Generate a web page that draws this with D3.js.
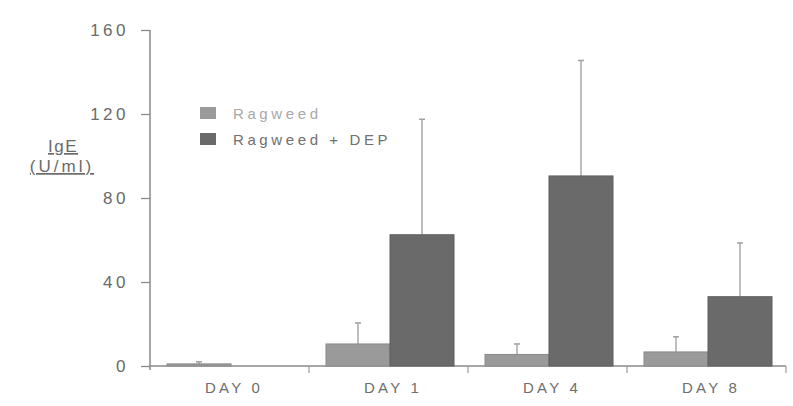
<!DOCTYPE html>
<html>
<head>
<meta charset="utf-8">
<script src="https://cdn.jsdelivr.net/npm/d3@7"></script>
<style>
  body { margin: 0; background: #fff; }
  text { font-family: "Liberation Sans", Arial, sans-serif; }
</style>
</head>
<body>
<div id="chart"></div>
<script>
// values
const days = ["DAY 0", "DAY 1", "DAY 4", "DAY 8"];
const seriesNames = ["Ragweed", "Ragweed + DEP"];
const ragweed = [1, 10.5, 5.5, 6.7];
const ragweedErr = [1, 10, 5, 7.2];
const ragweedDep = [null, 62.5, 90.5, 33];
const ragweedDepErr = [null, 55, 55, 25.6];
const yTicks = [0, 40, 80, 120, 160];

const width = 793, height = 406;
const colors = ["#9a9a9a", "#6a6a6a"];

const svg = d3.select("#chart").append("svg")
  .attr("width", width)
  .attr("height", height);

const y = d3.scaleLinear().domain([0, 160]).range([366, 30]);
const x0 = d3.scaleBand().domain(days).range([150, 786]);
const x1 = d3.scaleBand().domain(seriesNames).range([17, 145]);

const rows = days.map((day, i) => ({
  day,
  values: [
    { name: seriesNames[0], v: ragweed[i], e: ragweedErr[i] },
    { name: seriesNames[1], v: ragweedDep[i], e: ragweedDepErr[i] }
  ]
}));

// y axis
const yAxis = svg.append("g")
  .attr("transform", "translate(150,0)")
  .call(d3.axisLeft(y).tickValues(yTicks).tickSize(9).tickPadding(12));
yAxis.select(".domain").attr("stroke", "#8a8a8a").attr("stroke-width", 1.5)
  .attr("d", "M0,30V370");
yAxis.selectAll(".tick line").attr("stroke", "#8a8a8a").attr("stroke-width", 1.3);
yAxis.selectAll(".tick text")
  .attr("fill", "#6a6a6a")
  .style("font-size", "17px")
  .style("letter-spacing", "3.5px");

// x axis
const xAxis = svg.append("g")
  .attr("transform", "translate(0,366)");
xAxis.append("line")
  .attr("x1", 150).attr("x2", 786)
  .attr("stroke", "#8a8a8a").attr("stroke-width", 1.5);
xAxis.selectAll(".sep")
  .data(days)
  .join("line")
  .attr("class", "sep")
  .attr("x1", d => x0(d) + x0.bandwidth())
  .attr("x2", d => x0(d) + x0.bandwidth())
  .attr("y1", 0).attr("y2", 7)
  .attr("stroke", "#9a9a9a").attr("stroke-width", 1.2);
xAxis.selectAll(".lbl")
  .data(days)
  .join("text")
  .attr("class", "lbl")
  .attr("x", d => x0(d) + (x1.range()[0] + x1.range()[1]) / 2 + 3)
  .attr("y", 27)
  .attr("text-anchor", "middle")
  .attr("fill", "#6e6e6e")
  .style("font-size", "15px")
  .style("letter-spacing", "3.2px")
  .text(d => d);

// bars
const groups = svg.selectAll(".grp")
  .data(rows)
  .join("g")
  .attr("class", "grp")
  .attr("transform", d => `translate(${x0(d.day)},0)`);

const items = groups.selectAll(".item")
  .data(d => d.values.filter(v => v.v != null))
  .join("g")
  .attr("class", "item");

items.append("line")
  .attr("x1", d => x1(d.name) + x1.bandwidth() / 2)
  .attr("x2", d => x1(d.name) + x1.bandwidth() / 2)
  .attr("y1", d => y(d.v))
  .attr("y2", d => y(d.v + d.e))
  .attr("stroke", "#a8a8a8").attr("stroke-width", 1.5);
items.append("line")
  .attr("x1", d => x1(d.name) + x1.bandwidth() / 2 - 3)
  .attr("x2", d => x1(d.name) + x1.bandwidth() / 2 + 3)
  .attr("y1", d => y(d.v + d.e))
  .attr("y2", d => y(d.v + d.e))
  .attr("stroke", "#a0a0a0").attr("stroke-width", 1.5);

items.append("rect")
  .attr("x", d => x1(d.name))
  .attr("width", x1.bandwidth())
  .attr("y", d => y(d.v))
  .attr("height", d => y(0) - y(d.v))
  .attr("fill", d => colors[seriesNames.indexOf(d.name)])
  .attr("stroke", d => d3.color(colors[seriesNames.indexOf(d.name)]).darker(0.3))
  .attr("stroke-width", 1);

// legend
const legend = svg.append("g").attr("transform", "translate(200,107)");
const legendText = ["#a8a8a8", "#707070"];
seriesNames.forEach((name, i) => {
  const g = legend.append("g").attr("transform", `translate(0,${i * 26})`);
  g.append("rect").attr("width", 16).attr("height", 12).attr("fill", colors[i]);
  g.append("text")
    .attr("x", 33).attr("y", 12)
    .attr("fill", legendText[i])
    .style("font-size", "15px")
    .style("letter-spacing", "3.6px")
    .text(name);
});

// y label
const yl = svg.append("g").attr("fill", "#6a6a6a");
yl.append("text")
  .attr("x", 63).attr("y", 152)
  .attr("text-anchor", "middle")
  .style("font-size", "17px")
  .style("letter-spacing", "1.5px")
  .style("text-decoration", "underline")
  .text("IgE");
yl.append("text")
  .attr("x", 62).attr("y", 172)
  .attr("text-anchor", "middle")
  .style("font-size", "17px")
  .style("letter-spacing", "3px")
  .style("text-decoration", "underline")
  .text("(U/ml)");
</script>
</body>
</html>
